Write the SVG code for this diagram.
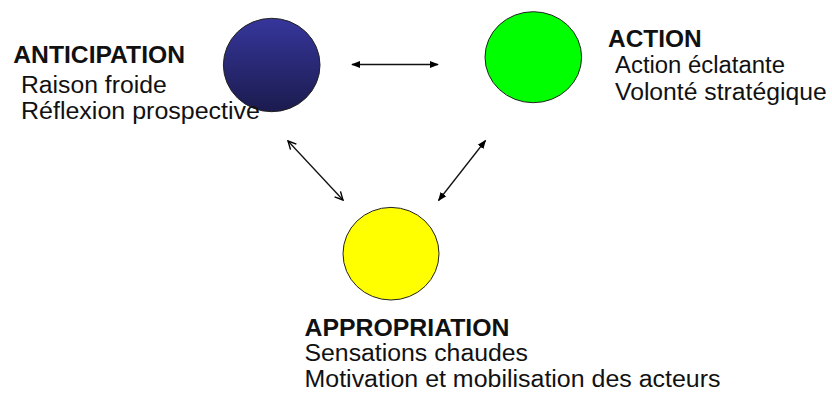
<svg xmlns="http://www.w3.org/2000/svg" width="832" height="394" viewBox="0 0 832 394">
<defs>
<linearGradient id="blueGrad" x1="0" y1="0" x2="0" y2="1">
<stop offset="0" stop-color="#36369c"/>
<stop offset="1" stop-color="#1b1b4e"/>
</linearGradient>
<marker id="tri" viewBox="0 0 10 10" refX="9" refY="5" markerWidth="9" markerHeight="9" markerUnits="userSpaceOnUse" orient="auto-start-reverse">
<path d="M0,1 L10,5 L0,9 Z" fill="#000"/>
</marker>
<marker id="vee" viewBox="0 0 10 10" refX="9" refY="5" markerWidth="10" markerHeight="10" markerUnits="userSpaceOnUse" orient="auto-start-reverse">
<path d="M1,1 L9,5 L1,9" fill="none" stroke="#000" stroke-width="1.4"/>
</marker>
</defs>
<style>
.node{stroke:#222;stroke-width:1}
.t{font-family:"Liberation Sans",Arial,sans-serif;font-size:23.5px;fill:#111}
.b{font-weight:bold}
.c{stroke:#111;stroke-width:1.3;fill:none}
</style>
<rect width="832" height="394" fill="#fff"/>
<g id="connectors">
<line class="c" x1="352" y1="64.5" x2="438" y2="64.5" marker-start="url(#tri)" marker-end="url(#tri)"/>
<line class="c" x1="288" y1="141" x2="343" y2="200" marker-start="url(#vee)" marker-end="url(#vee)"/>
<line class="c" x1="485.5" y1="140.5" x2="438.5" y2="200.5" marker-start="url(#tri)" marker-end="url(#tri)"/>
</g>
<g id="anticipation">
<ellipse class="node" cx="271.7" cy="65" rx="48.3" ry="46.7" fill="url(#blueGrad)"/>
<text class="t b" x="13.3" y="62.7" textLength="171.7" lengthAdjust="spacingAndGlyphs">ANTICIPATION</text>
<text class="t" x="21" y="92.7" textLength="145.7" lengthAdjust="spacingAndGlyphs">Raison froide</text>
<text class="t" x="21" y="119.3" textLength="239" lengthAdjust="spacingAndGlyphs">Réflexion prospective</text>
</g>
<g id="action">
<ellipse class="node" cx="533.3" cy="57.2" rx="48.3" ry="45.5" fill="#00ff00"/>
<text class="t b" x="608" y="46.7" textLength="93.7" lengthAdjust="spacingAndGlyphs">ACTION</text>
<text class="t" x="615" y="73.3" textLength="170" lengthAdjust="spacingAndGlyphs">Action éclatante</text>
<text class="t" x="615" y="100" textLength="211.7" lengthAdjust="spacingAndGlyphs">Volonté stratégique</text>
</g>
<g id="appropriation">
<ellipse class="node" cx="391" cy="253.7" rx="48" ry="46.3" fill="#ffff00"/>
<text class="t b" x="304.5" y="336" textLength="205" lengthAdjust="spacingAndGlyphs">APPROPRIATION</text>
<text class="t" x="304.5" y="360.5" textLength="223.5" lengthAdjust="spacingAndGlyphs">Sensations chaudes</text>
<text class="t" x="304.5" y="386.7" textLength="416" lengthAdjust="spacingAndGlyphs">Motivation et mobilisation des acteurs</text>
</g>
</svg>
